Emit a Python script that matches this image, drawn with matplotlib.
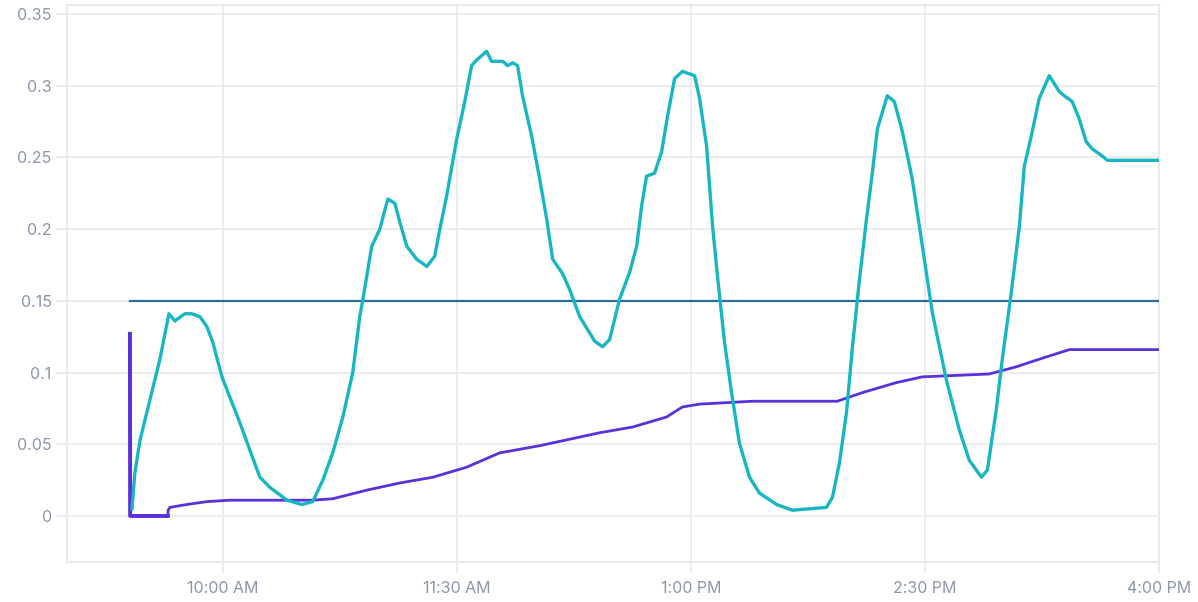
import matplotlib
matplotlib.use("Agg")
import matplotlib.pyplot as plt
import pandas as pd

plt.rcParams['font.family'] = ['Inter', 'DejaVu Sans']

# minutes after 9:00 AM
teal_minutes = [25.0, 26.1, 28.1, 31.9, 35.7, 39.2, 41.5, 45.3, 48.0, 51.1, 53.8, 56.1,
                59.6, 62.6, 66.5, 70.3, 74.2, 78.0, 84.6, 90.3, 94.5, 98.4, 102.2, 106.1,
                109.9, 112.6, 113.8, 117.2, 120.3, 123.4, 126.1, 128.0, 130.7, 134.5, 138.4,
                141.4, 143.4, 146.0, 149.9, 153.0, 155.6, 157.6, 161.4, 163.3, 167.6, 169.5,
                171.4, 173.3, 175.2, 178.7, 181.8, 184.5, 186.8, 190.6, 193.3, 197.2, 202.9,
                206.0, 208.7, 212.5, 216.4, 219.1, 221.0, 222.9, 226.0, 228.7, 231.0, 233.7,
                236.7, 241.4, 243.3, 246.0, 248.3, 250.2, 252.9, 255.6, 258.6, 262.5, 266.3,
                272.9, 279.0, 292.1, 294.4, 297.1, 299.8, 302.1, 304.8, 307.5, 309.8, 311.7,
                315.5, 318.2, 321.3, 325.1, 329.0, 332.8, 338.2, 343.2, 347.0, 351.7, 354.0,
                357.4, 359.7, 363.2, 366.3, 368.2, 370.9, 373.9, 377.8, 381.6, 383.6, 386.6,
                389.3, 392.0, 394.3, 398.2, 400.1, 420.0]
teal_values = [0.005, 0.030, 0.053, 0.081, 0.109, 0.141, 0.136, 0.141, 0.141, 0.139, 0.132, 0.121,
               0.097, 0.083, 0.065, 0.046, 0.027, 0.020, 0.011, 0.008, 0.010, 0.025, 0.044, 0.069,
               0.100, 0.139, 0.151, 0.188, 0.200, 0.221, 0.218, 0.205, 0.188, 0.179, 0.174,
               0.181, 0.200, 0.223, 0.263, 0.289, 0.314, 0.318, 0.324, 0.317, 0.317, 0.314,
               0.316, 0.314, 0.293, 0.265, 0.235, 0.207, 0.179, 0.169, 0.158, 0.139, 0.122,
               0.118, 0.123, 0.151, 0.170, 0.188, 0.216, 0.237, 0.239, 0.254, 0.279, 0.305,
               0.310, 0.307, 0.291, 0.258, 0.202, 0.167, 0.121, 0.086, 0.051, 0.027, 0.016,
               0.008, 0.004, 0.006, 0.013, 0.037, 0.072, 0.118, 0.165, 0.207, 0.240, 0.270,
               0.293, 0.289, 0.268, 0.235, 0.188, 0.142, 0.095, 0.060, 0.039, 0.027, 0.032,
               0.074, 0.109, 0.156, 0.202, 0.244, 0.265, 0.291, 0.307, 0.296, 0.293, 0.289,
               0.277, 0.261, 0.256, 0.251, 0.248, 0.248]

purple_minutes = [24.2, 24.3, 38.8, 38.9, 39.6, 46.1, 53.8, 62.6, 94.5, 102.2, 115.3, 128.0,
                  140.7, 153.7, 166.4, 181.8, 204.8, 217.5, 230.6, 236.7, 243.3, 263.6, 296.3,
                  305.9, 319.0, 329.0, 354.7, 365.1, 375.1, 385.5, 420.0]
purple_values = [0.127, 0.0, 0.0, 0.004, 0.006, 0.008, 0.010, 0.011, 0.011, 0.012, 0.018, 0.023,
                 0.027, 0.034, 0.044, 0.049, 0.058, 0.062, 0.069, 0.076, 0.078, 0.080, 0.080,
                 0.086, 0.093, 0.097, 0.099, 0.104, 0.110, 0.116, 0.116]

limit_minutes = [24.2, 420.0]
limit_values = [0.15, 0.15]

y_ticks = [0, 0.05, 0.1, 0.15, 0.2, 0.25, 0.3, 0.35]
y_labels = ["0", "0.05", "0.1", "0.15", "0.2", "0.25", "0.3", "0.35"]
x_ticks = ["10:00", "11:30", "13:00", "14:30", "16:00"]
x_labels = ["10:00 AM", "11:30 AM", "1:00 PM", "2:30 PM", "4:00 PM"]

base = pd.Timestamp("2024-01-02 09:00")


def to_time(mins):
    return base + pd.to_timedelta(mins, unit="m")


grid_c = "#e8eaef"
label_c = "#8c96a8"

fig = plt.figure(figsize=(11.98, 6.02), dpi=100)
ax = fig.add_axes([67 / 1198, 1 - 562 / 602, (1159 - 67) / 1198, (562 - 5) / 602])

ax.plot(to_time(limit_minutes), limit_values, color="#2c6b9b", lw=1.6, zorder=3)
ax.plot(to_time(purple_minutes), purple_values, color="#5a30d8", lw=2.0, zorder=4)
# the opening spike is drawn heavier in the original
ax.plot(to_time(purple_minutes[:3]), purple_values[:3], color="#5a30d8", lw=2.8, zorder=4)
ax.plot(to_time(teal_minutes), teal_values, color="#17b6c0", lw=2.4, zorder=5)

ax.set_xlim(base, base + pd.Timedelta(minutes=420))
ax.set_ylim(-0.0321, 0.3563)

ax.set_yticks(y_ticks)
ax.set_yticklabels(y_labels)
ax.set_xticks([pd.Timestamp("2024-01-02 " + t) for t in x_ticks])
ax.set_xticklabels(x_labels)

ax.grid(True, color=grid_c, lw=1.3)
ax.set_axisbelow(True)
for s in ax.spines.values():
    s.set_color(grid_c)
    s.set_linewidth(1.5)
ax.tick_params(axis="both", length=8, width=1.3, color=grid_c, labelcolor=label_c,
               labelsize=11.5)
ax.tick_params(axis="y", pad=3)
ax.tick_params(axis="x", pad=6)

fig.savefig("out.png", dpi=100)
